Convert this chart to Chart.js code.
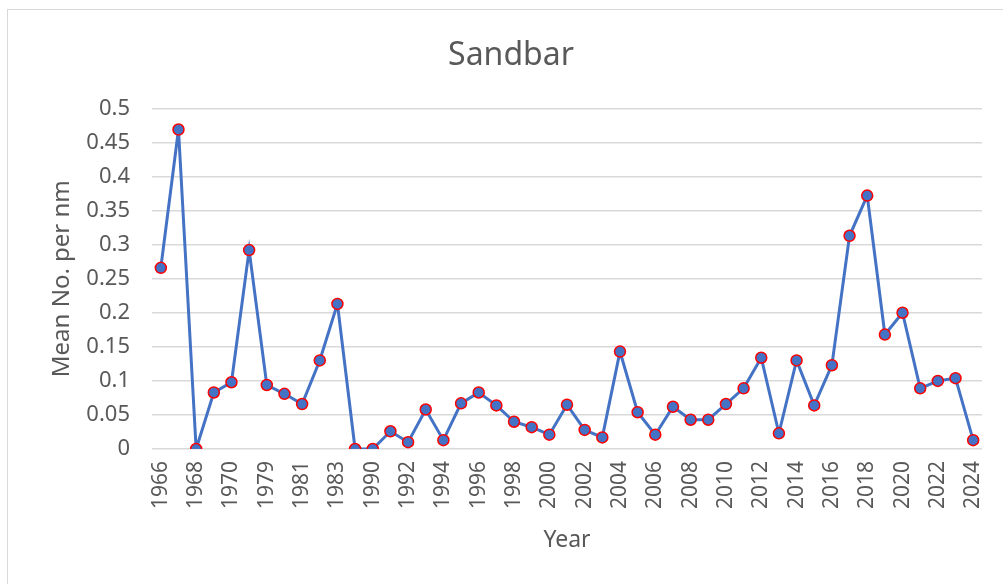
<!DOCTYPE html>
<html>
<head>
<meta charset="utf-8">
<script src="https://cdn.jsdelivr.net/npm/chart.js@4"></script>
<style>
  body { margin: 0; background: #fff; overflow: hidden; }
  #frame { position: absolute; left: 7px; top: 9px; width: 1100px; height: 700px; border: 1px solid #d9d9d9; }
  #wrap { position: absolute; left: 0; top: 0; width: 1003px; height: 584px; }
</style>
</head>
<body>
<div id="frame"></div>
<div id="wrap"><canvas id="chart" width="1003" height="584"></canvas></div>
<script>
// Years as they appear on the category axis (two gaps in the record are unlabeled)
const years = [
  '1966', '1967', '1968', '1969', '1970', '1978', '1979', '1980', '1981', '1982', '1983', '1989',
  '1990', '1991', '1992', '1993', '1994', '1995', '1996', '1997', '1998', '1999',
  '2000', '2001', '2002', '2003', '2004', '2005', '2006', '2007', '2008', '2009',
  '2010', '2011', '2012', '2013', '2014', '2015', '2016', '2017', '2018', '2019',
  '2020', '2021', '2022', '2023', '2024'
];

const meanPerNm = [
  0.266, 0.469, 0.0, 0.083, 0.098, 0.292, 0.094, 0.081, 0.066, 0.130, 0.213, 0.0,
  0.0, 0.026, 0.010, 0.058, 0.013, 0.067, 0.083, 0.064, 0.040, 0.032,
  0.021, 0.065, 0.028, 0.017, 0.143, 0.054, 0.021, 0.062, 0.043, 0.043,
  0.066, 0.089, 0.134, 0.023, 0.130, 0.064, 0.123, 0.313, 0.372, 0.168,
  0.200, 0.089, 0.100, 0.104, 0.013
];

const textColor = '#595959';
const fontFamily = "'Noto Sans', 'Open Sans', sans-serif";

const ctx = document.getElementById('chart').getContext('2d');
new Chart(ctx, {
  type: 'line',
  data: {
    labels: years,
    datasets: [{
      label: 'Sandbar',
      data: meanPerNm,
      borderColor: '#4472C4',
      borderWidth: 3,
      backgroundColor: '#4472C4',
      pointBackgroundColor: '#4472C4',
      pointBorderColor: '#ff0000',
      pointBorderWidth: 1.5,
      pointRadius: 5.5,
      tension: 0,
      fill: false
    }]
  },
  options: {
    responsive: false,
    animation: false,
    layout: { padding: { left: 40, right: 21, top: 20, bottom: 20 } },
    plugins: {
      legend: { display: false },
      tooltip: { enabled: false },
      title: {
        display: true,
        text: 'Sandbar',
        color: textColor,
        font: { family: fontFamily, size: 32, weight: 'normal' },
        padding: { top: 17, bottom: 33 }
      }
    },
    scales: {
      x: {
        offset: true,
        grid: { display: false, drawTicks: false },
        border: { display: false },
        afterFit: s => {
          s.height = 584 - 20 - 449;
          s.paddingLeft = 0;
          s.paddingRight = 0;
        },
        ticks: {
          autoSkip: false,
          minRotation: 90,
          maxRotation: 90,
          padding: 12,
          color: textColor,
          font: { family: fontFamily, size: 21 },
          callback: function (v, i) { return i % 2 === 0 ? this.getLabelForValue(v) : ''; }
        },
        title: {
          display: true,
          text: 'Year',
          color: textColor,
          font: { family: fontFamily, size: 23 },
          padding: { top: 0, bottom: 10 }
        }
      },
      y: {
        min: 0,
        max: 0.5,
        afterFit: s => { s.width = 152 - 40; },
        grid: { color: '#d9d9d9', lineWidth: 1.5, drawTicks: false },
        border: { display: false },
        ticks: {
          stepSize: 0.05,
          padding: 22,
          color: textColor,
          font: { family: fontFamily, size: 22 },
          callback: v => String(+v.toFixed(2))
        },
        title: {
          display: true,
          text: 'Mean No. per nm',
          color: textColor,
          font: { family: fontFamily, size: 24 },
          padding: { top: 8, bottom: 0 }
        }
      }
    }
  }
});
</script>
</body>
</html>
